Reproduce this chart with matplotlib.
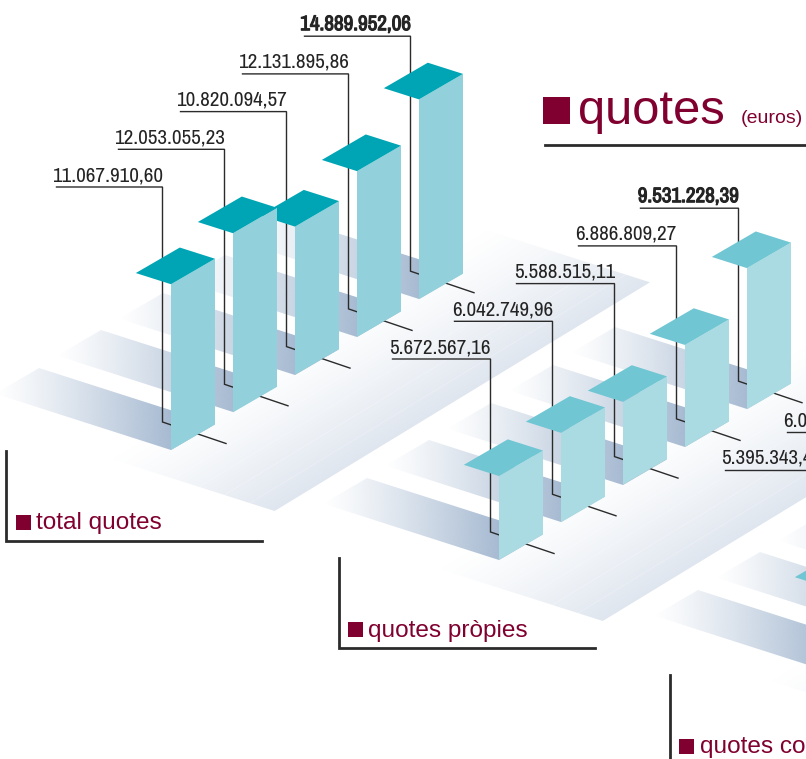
import numpy as np
import matplotlib
matplotlib.use("Agg")
import matplotlib.pyplot as plt
import matplotlib.patheffects as pe
from matplotlib.colors import to_rgb
from matplotlib.patches import Polygon, Rectangle
from matplotlib.transforms import Affine2D

# ---- data (euros) ----
total_quotes = [11067910.60, 12053055.23, 10820094.57, 12131895.86, 14889952.06]
quotes_propies = [5672567.16, 6042749.96, 5588515.11, 6886809.27, 9531228.39]
quotes_co = [5395343.44, 6010305.27]

# The reference does not draw the total bars in proportion to their labels,
# so their drawn levels (millions on the shared height scale) are read separately.
total_drawn_levels = [11.2, 12.1, 10.0, 11.2, 13.5]
propies_drawn_levels = [v / 1e6 for v in quotes_propies]
co_drawn_levels = [5.65, 6.2]

group_names = ["total quotes", "quotes pròpies", "quotes co"]
title_text = "quotes"
unit_text = "(euros)"

# ---- styles / layout ----
MAROON = "#80002F"
INK = "#242424"
LINE = "#2b2b2b"
PX_PER_MILLION = 14.8
SLOT = np.array([62.0, -37.7])
WIDTH = np.array([44.0, -25.5])
DEPTH = np.array([-35.2, -11.2])
N_SLOTS = 5

plt.rcParams["font.family"] = ["Liberation Sans", "DejaVu Sans"]
fig = plt.figure(figsize=(8.06, 7.59), dpi=100)
ax = fig.add_axes([0, 0, 1, 1])
ax.set_xlim(0, 806)
ax.set_ylim(759, 0)
ax.set_autoscale_on(False)
ax.axis("off")


def ramp_image(corner, e1, e2, colour, alpha, zorder):
    """Paint an RGBA array on the parallelogram corner + a*e1 + b*e2."""
    rgba = np.zeros(alpha.shape + (4,))
    rgba[..., :3] = to_rgb(colour)
    rgba[..., 3] = alpha
    matrix = np.array([[e1[0], e2[0], corner[0]],
                       [e1[1], e2[1], corner[1]],
                       [0, 0, 1]])
    tr = Affine2D(matrix) + ax.transData
    ax.imshow(rgba, extent=(0, 1, 0, 1), origin="lower", aspect="auto",
              transform=tr, zorder=zorder, interpolation="bilinear")


def draw_plate(base, z):
    corner = base + SLOT * -0.48 + DEPTH * -3.8
    e1 = SLOT * 6.05
    e2 = DEPTH * 5.1
    t = np.linspace(0, 1, 256)[:, None]
    alpha = np.clip(1 - t / 0.92, 0, 1) ** 1.25 * np.ones((256, 2))
    ramp_image(corner, e1, e2, "#DFE6EF", alpha, z)
    for d in np.arange(-3.1, 0.0, 0.72):
        a = base + SLOT * -0.48 + DEPTH * d
        b = a + e1
        ax.plot([a[0], b[0]], [a[1], b[1]], color="white", lw=0.4,
                alpha=0.4, zorder=z + 0.1)


def draw_strip(base, z):
    e1 = DEPTH * 5.0
    e2 = WIDTH
    n_len, n_wid = 370, 100
    t = np.linspace(0, 1, n_len)[None, :]
    s = np.linspace(0, 1, n_wid)[:, None]
    v = np.arange(n_wid)[:, None]
    u = np.arange(n_len)[None, :]
    tau = t - 0.25 * s
    alpha = np.clip(1 - tau, 0, 1) ** 1.15
    dots = (((u + 2 * v) % 6) < 2) & (((2 * u - v) % 6) < 3)
    alpha = alpha * np.where(dots, 0.86, 1.0)
    ramp_image(base, e1, e2, "#A5B9D1", alpha, z)


def money(v):
    s = f"{v:,.2f}"
    return s.replace(",", "#").replace(".", ",").replace("#", ".")


def draw_bar(base, level, face, top, z):
    up = np.array([0.0, -level * PX_PER_MILLION])
    ax.add_patch(Polygon([base, base + WIDTH, base + WIDTH + up, base + up],
                         closed=True, fc=face, ec="none", zorder=z + 0.2))
    ft = base + up
    ax.add_patch(Polygon([ft, ft + WIDTH, ft + WIDTH + DEPTH, ft + DEPTH],
                         closed=True, fc=top, ec="none", zorder=z + 0.3))


def draw_leader(base, value, rise, length, bold, z):
    vx = base[0] - 8.5
    uy = base[1] - rise
    cy = base[1] - 28
    ax.plot([vx - length, vx, vx, base[0] + 55],
            [uy, uy, cy, base[1] - 6.5],
            color=LINE, lw=1.0, solid_joinstyle="miter", zorder=z + 0.1)
    label = ax.text(vx + 0.5, uy - 6, money(value), ha="right", va="baseline",
                    family=["Archivo Narrow", "Liberation Sans"], fontsize=15.2,
                    color=INK, clip_on=True, zorder=z + 0.4)
    if bold:
        label.set_path_effects([pe.withStroke(linewidth=0.8, foreground=INK)])


def draw_group(base0, values, levels, face, top, rise, length, highlight, z):
    base0 = np.array(base0, float)
    draw_plate(base0, z)
    for i in range(N_SLOTS):
        draw_strip(base0 + SLOT * i, z + 0.5)
    for i in range(len(values) - 1, -1, -1):
        base = base0 + SLOT * i
        zz = z + 1 + (len(values) - i)
        draw_leader(base, values[i], rise, length, i == highlight, zz)
        draw_bar(base, levels[i], face, top, zz)


draw_group((171, 450), total_quotes, total_drawn_levels,
           "#92D1DB", "#00A5B5", 263, 106, 4, 10)
draw_group((499, 560), quotes_propies, propies_drawn_levels,
           "#AADAE2", "#70C6D3", 201, 98, 4, 30)
draw_group((830, 672), quotes_co, co_drawn_levels,
           "#AADAE2", "#70C6D3", 202, 97, None, 50)


def legend_block(x, y_top, y_bottom, x_end, name):
    ax.plot([x, x, x_end], [y_top, y_bottom, y_bottom], color=LINE, lw=2.0,
            solid_joinstyle="miter", zorder=70)
    ax.add_patch(Rectangle((x + 9.5, y_bottom - 26), 15, 15, fc=MAROON,
                           ec="none", zorder=70))
    ax.text(x + 30, y_bottom - 11.5, name, fontsize=17.6, color=MAROON,
            va="baseline", ha="left", clip_on=True, zorder=70)


legend_block(6, 451, 541, 262, group_names[0])
legend_block(338.5, 558, 648, 595, group_names[1])
legend_block(669.5, 675, 765, 806, group_names[2])

ax.add_patch(Rectangle((543, 97), 27, 27, fc=MAROON, ec="none", zorder=70))
ax.text(578, 124, title_text, fontsize=35.3, color=MAROON, va="baseline",
        ha="left", zorder=70)
ax.text(741, 123, unit_text, fontsize=14, color=MAROON, va="baseline",
        ha="left", zorder=70)
ax.plot([545, 806], [145, 145], color=LINE, lw=2.0, zorder=70)

fig.savefig("out.png", dpi=100)
